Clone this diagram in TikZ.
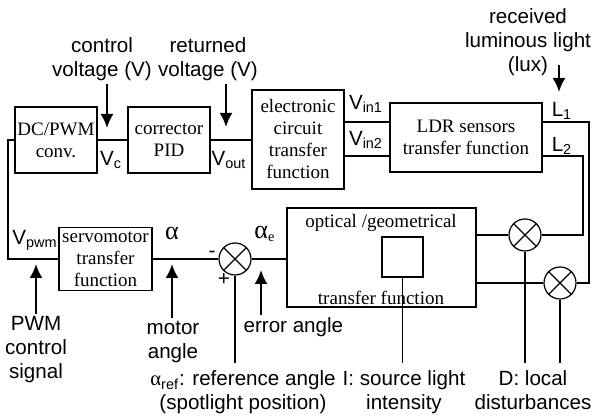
\documentclass[tikz,border=0pt]{standalone}
\usepackage{fontspec}
\setmainfont{Liberation Serif}
\setsansfont{Liberation Sans}
\usepackage{tikz}
\usetikzlibrary{arrows.meta}

\tikzset{
  blk/.style={draw, inner sep=0pt, align=center, font=\rmfamily\fontsize{9.5}{11}\selectfont},
  sumnode/.style={draw, circle, minimum size=16pt, inner sep=0pt},
  lbl/.style={inner sep=1pt, align=center, font=\sffamily\fontsize{10.3}{12}\selectfont},
  sig/.style={-{Latex[length=7pt,width=6.5pt]}, line width=1pt},
}
\newcommand{\alp}{{\rmfamily\fontsize{13}{13}\selectfont α}}

\begin{document}
\begin{tikzpicture}[x=0.5pt,y=-0.5pt,line width=0.6pt]
\useasboundingbox (0,0) rectangle (595,416);
\node [blk, minimum width=41pt, minimum height=33pt] (dcpwm) at (56,140) {DC/PWM\\conv.};
\node [blk, minimum width=41pt, minimum height=33pt] (pid) at (169,140) {corrector\\PID};
\node [blk, minimum width=46pt, minimum height=49.5pt] (elec) at (298,139.5) {electronic\\circuit\\transfer\\function};
\node [blk, minimum width=76pt, minimum height=34.5pt] (ldr) at (466,137.5) {LDR sensors\\transfer function};
\node [blk, minimum width=46.5pt, minimum height=31.5pt] (servo) at (105.5,259) {servomotor\\transfer\\function};
\node [blk, minimum width=94.5pt, minimum height=49.5pt] (optic) at (381.5,257.5) {};
\node [blk, minimum width=20.5pt, minimum height=20pt] (src) at (402.5,257) {};
\node [font=\rmfamily\fontsize{9.5}{11}\selectfont] (optop) at (381,223) {optical /geometrical};
\node [font=\rmfamily\fontsize{9.5}{11}\selectfont] (opbot) at (381,298) {transfer function};
\node [sumnode] (sa) at (235,259) {};
\node [sumnode] (d1) at (525,235) {};
\node [sumnode] (d2) at (560,283) {};
\draw (sa.north west) -- (sa.south east);
\draw (sa.north east) -- (sa.south west);
\draw (d1.north west) -- (d1.south east);
\draw (d1.north east) -- (d1.south west);
\draw (d2.north west) -- (d2.south east);
\draw (d2.north east) -- (d2.south west);

\draw (dcpwm.east) -- (pid.west);
\draw (pid.east) -- (elec.west |- pid.east);
\draw (elec.east |- 0,122) -- (ldr.west |- 0,122);
\draw (elec.east |- 0,156) -- (ldr.west |- 0,156);
\draw (ldr.east |- 0,122) -- (589,122) |- (d2.east);
\draw (ldr.east |- 0,156) -- (583,156) |- (d1.east);
\draw (dcpwm.west) -- (8,140) |- (servo.west);
\draw (servo.east) -- (sa.west);
\draw (sa.east) -- (optic.west |- sa.east);
\draw (d1.west) -- (optic.east |- d1.west);
\draw (d2.west) -- (optic.east |- d2.west);

\node [lbl] (vc) at (111,160) {V\textsubscript{c}};
\node [lbl] (vout) at (229,160) {V\textsubscript{out}};
\node [lbl] (vin1) at (366,104) {V\textsubscript{in1}};
\node [lbl] (vin2) at (366,140) {V\textsubscript{in2}};
\node [lbl] (l1) at (562,111) {L\textsubscript{1}};
\node [lbl] (l2) at (562,146) {L\textsubscript{2}};
\node [lbl] (vpwm) at (35,240) {V\textsubscript{pwm}};
\node [lbl] (al) at (172,233) {\alp};
\node [lbl] (ale) at (265,234) {\alp\textsubscript{\rmfamily e}};
\node [lbl] (minus) at (212,254) {-};
\node [lbl] (plus) at (224,280) {+};

\node [lbl] (ctrl) at (102,59.5) {control\\voltage (V)};
\node [lbl] (ret) at (208,59.5) {returned\\voltage (V)};
\node [lbl] (rcv) at (528,42.5) {received\\luminous light\\(lux)};
\node [lbl] (pwm) at (36,350) {PWM\\control\\signal};
\node [lbl] (mot) at (173,341.5) {motor\\angle};
\node [lbl, anchor=west] (err) at (241,327) {error angle};
\node [lbl, anchor=north, inner ysep=3.5pt] (ref) at (243,363) {{\rmfamily α}\textsubscript{ref}: reference angle\\(spotlight position)};
\node [lbl, anchor=north, inner ysep=3.5pt] (int) at (404,363) {I: source light\\intensity};
\node [lbl, anchor=north, inner ysep=3.5pt] (dist) at (533,363) {D: local\\disturbances};

\draw (sa.south) -- (sa.south |- ref.north);
\draw (src.south) -- (src.south |- int.north);
\draw (d1.south) -- (d1.south |- dist.north);
\draw (d2.south) -- (d2.south |- dist.north);

\coordinate (vcin) at (107,128);
\coordinate (voutin) at (226,127);
\coordinate (l1in) at (559,92);
\coordinate (pwmin) at (36,264);
\coordinate (motin) at (172,264);
\coordinate (errin) at (261,270);
\draw [sig] (ctrl.south -| vcin) -- (vcin);
\draw [sig] (ret.south -| voutin) -- (voutin);
\draw [sig] ([yshift=13.5pt]l1in) -- (l1in);
\draw [sig] (pwm.north -| pwmin) -- (pwmin);
\draw [sig] (mot.north -| motin) -- (motin);
\draw [sig] (err.north -| errin) -- (errin);
\end{tikzpicture}
\end{document}
